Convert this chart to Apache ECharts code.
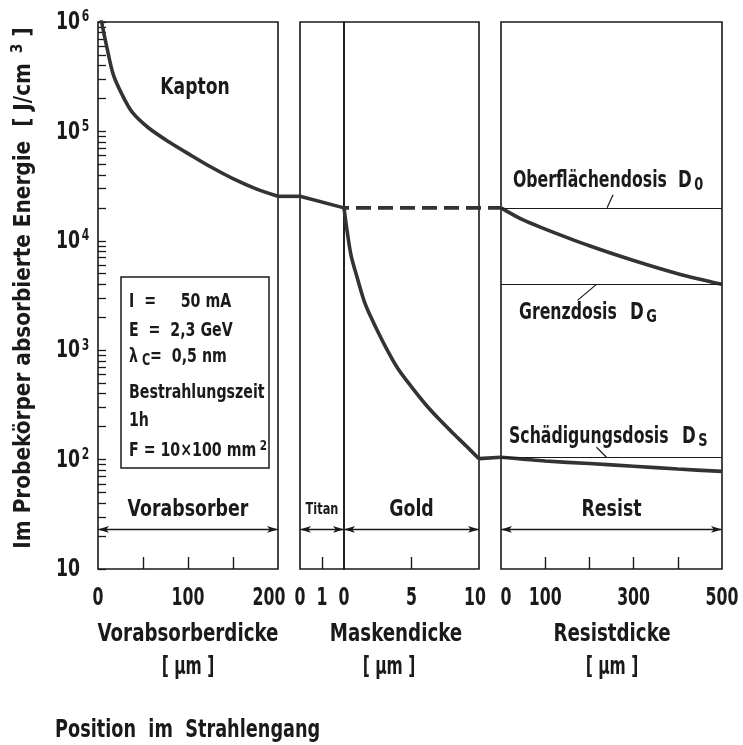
<!DOCTYPE html>
<html>
<head>
<meta charset="utf-8">
<script src="https://cdn.jsdelivr.net/npm/echarts@6/dist/echarts.min.js"></script>
<style>
  html, body { margin: 0; padding: 0; background: #fff; }
  #chart { width: 743px; height: 745px; }
</style>
</head>
<body>
<div id="chart"></div>
<script>
const FONT = '"DejaVu Sans Condensed", "DejaVu Sans", "Liberation Sans", sans-serif';
const INK = '#1a1a1a';
const CURVE = '#333333';

// Vorabsorber (Kapton): dose behind the pre-absorber
const kaptonThickness = [0, 4, 10, 17, 27, 38, 56, 79, 104, 125, 150, 175, 200];
const kaptonDose = [1.5e6, 1.0e6, 5.8e5, 3.3e5, 2.15e5, 1.5e5, 1.08e5, 8.0e4, 6.0e4, 4.75e4, 3.7e4, 3.0e4, 2.55e4];

// Titan membrane of the mask
const titanThickness = [0, 2];
const titanDose = [2.55e4, 2.0e4];

// Gold absorber of the mask
const goldThickness = [0, 0.5, 1, 1.5, 2, 3, 4, 5, 6, 7, 8, 9, 10];
const goldDose = [2.0e4, 7.6e3, 4.5e3, 2.8e3, 2.0e3, 1.12e3, 676, 462, 324, 237, 178, 135, 102];

// Resist: open areas (top curve) and areas under gold (bottom curve)
const resistDepth = [0, 50, 100, 200, 300, 400, 500];
const resistOpenDose = [2.0e4, 1.55e4, 1.28e4, 9.0e3, 6.6e3, 5.0e3, 4.0e3];
const resistMaskedDose = [105, 101, 97, 92, 87, 82, 78];

// Characteristic dose levels of the resist
const doseNames = ['Oberflächendosis', 'Grenzdosis', 'Schädigungsdosis'];
const doseSubscripts = ['0', 'G', 'S'];
const doseValues = [2.0e4, 4.0e3, 1.05e2];

// Layer names and the level of their extent arrows
const layerNames = ['Vorabsorber', 'Titan', 'Gold', 'Resist'];
const layerArrowLevel = 23;

// Axis ranges and tick labels
const yMin = 10, yMax = 1e6;
const yLabelValues = [10, 1e2, 1e3, 1e4, 1e5, 1e6];
const xRanges = [[0, 200], [0, 2], [0, 10], [0, 500]];
const xLabelValues = [[0, 100, 200], [0, 1], [0, 5, 10], [0, 100, 300, 500]];
const xTickValues = [[50, 100, 150], [1], [5], [100, 200, 300, 400]];

// log-decade positions of the minor ticks on the dose axis
const yMinorTicks = [];
for (let e = 1; e < 6; e++) for (let k = 1; k <= 9; k++) yMinorTicks.push(e + Math.log10(k));
yMinorTicks.push(6);

const zip = (xs, ys) => xs.map((x, i) => [x, ys[i]]);

const grids = [
  { left: 98, top: 22, width: 180, height: 547 },
  { left: 300, top: 22, width: 44, height: 547 },
  { left: 344, top: 22, width: 135, height: 547 },
  { left: 501, top: 22, width: 221, height: 547 }
].map(g => Object.assign(g, { show: true, borderColor: INK, borderWidth: 1.6, backgroundColor: 'transparent' }));

const xAxes = xRanges.map((r, i) => ({
  type: 'value', gridIndex: i, min: r[0], max: r[1],
  axisLine: { show: false },
  splitLine: { show: false },
  axisTick: { show: true, inside: true, length: 12, customValues: xTickValues[i], lineStyle: { color: INK, width: 1.4 } },
  axisLabel: { show: false }
}));

const yAxes = [0, 1, 2, 3].map(i => ({
  type: 'log', logBase: 10, gridIndex: i, min: yMin, max: yMax,
  axisLine: { show: false }, splitLine: { show: false },
  axisTick: { show: false }, axisLabel: { show: false }
}));
// linear decade scale on the first panel, carrying the minor ticks
yAxes.push({
  type: 'value', gridIndex: 0, min: 1, max: 6, position: 'left',
  axisLine: { show: false }, splitLine: { show: false }, axisLabel: { show: false },
  axisTick: { show: true, inside: true, length: 8, customValues: yMinorTicks, lineStyle: { color: INK, width: 1.3 } }
});

const curveStyle = { color: CURVE, width: 3.6 };
const arrowLine = i => ({
  silent: true, symbol: ['arrow', 'arrow'], symbolSize: [5, 11],
  lineStyle: { color: INK, width: 1.3, type: 'solid' },
  label: { show: false },
  data: [[{ coord: [xRanges[i][0], layerArrowLevel] }, { coord: [xRanges[i][1], layerArrowLevel] }]]
});

const series = [
  { type: 'line', name: 'Kapton', xAxisIndex: 0, yAxisIndex: 0, data: zip(kaptonThickness, kaptonDose),
    smooth: 0.3, symbol: 'none', lineStyle: curveStyle, markLine: arrowLine(0) },
  { type: 'line', name: 'Titan', xAxisIndex: 1, yAxisIndex: 1, data: zip(titanThickness, titanDose),
    symbol: 'none', lineStyle: curveStyle, markLine: arrowLine(1) },
  { type: 'line', name: 'Gold', xAxisIndex: 2, yAxisIndex: 2, data: zip(goldThickness, goldDose),
    smooth: 0.3, symbol: 'none', lineStyle: curveStyle, markLine: arrowLine(2) },
  { type: 'line', name: 'Resist offen', xAxisIndex: 3, yAxisIndex: 3, data: zip(resistDepth, resistOpenDose),
    smooth: 0.3, symbol: 'none', lineStyle: curveStyle, markLine: arrowLine(3) },
  { type: 'line', name: 'Resist unter Gold', xAxisIndex: 3, yAxisIndex: 3, data: zip(resistDepth, resistMaskedDose),
    smooth: 0.3, symbol: 'none', lineStyle: curveStyle,
    markLine: {
      silent: true, symbol: 'none', label: { show: false },
      lineStyle: { color: INK, width: 1.2, type: 'solid' },
      data: doseValues.map(v => ({ yAxis: v }))
    } }
];

const chart = echarts.init(document.getElementById('chart'), null, { renderer: 'canvas' });
chart.setOption({
  animation: false,
  backgroundColor: '#fff',
  grid: grids, xAxis: xAxes, yAxis: yAxes, series: series
});

// ---- labels and annotations, placed through the axes' own coordinate conversion ----
const px = (g, p) => chart.convertToPixel({ gridIndex: g }, p);
// bold condensed text; sx narrows the glyphs horizontally
const T = (x, y, text, size, sx, align, rich, extra) => Object.assign({
  type: 'text', x: x, y: y, scaleX: sx, silent: true,
  style: { text: text, fontFamily: FONT, fontSize: size, fontWeight: 'bold', fill: INK,
    align: align || 'center', verticalAlign: 'middle', rich: rich }
}, extra || {});
const seg = (a, b, style) => ({ type: 'polyline', silent: true, shape: { points: [a, b] },
  style: Object.assign({ stroke: INK, lineWidth: 1.2, fill: null }, style || {}) });

const graphics = [];
const curveStroke = { stroke: CURVE, lineWidth: 3.6, lineJoin: 'round' };

// curve continuing through the gaps between panels
graphics.push(seg(px(0, [200, kaptonDose[kaptonDose.length - 1]]), px(1, [0, titanDose[0]]), curveStroke));
graphics.push(seg(px(2, [10, goldDose[goldDose.length - 1]]), px(3, [0, resistMaskedDose[0]]), curveStroke));
// dose without gold absorber, carried across the mask to the resist surface
graphics.push(seg(px(2, [0, titanDose[1]]), px(3, [0, resistOpenDose[0]]),
  Object.assign({ lineDash: [15, 7], lineDashOffset: -12 }, curveStroke)));

// tick labels of the thickness axes
const xLabelNudge = { '0-200': -9, '2-10': -4, '3-0': 5 };
xLabelValues.forEach((vals, g) => vals.forEach(v => {
  const p = px(g, [v, yMin]);
  graphics.push(T(p[0] + (xLabelNudge[g + '-' + v] || 0), p[1] + 29, String(v), 25, 0.7));
}));

// tick labels of the dose axis (powers of ten)
const powRich = {
  b: { fontFamily: FONT, fontSize: 24, fontWeight: 'bold', fill: INK, lineHeight: 26 },
  s: { fontFamily: FONT, fontSize: 15, fontWeight: 'bold', fill: INK, lineHeight: 12, verticalAlign: 'top', padding: [0, 0, 0, 2] }
};
yLabelValues.forEach(v => {
  const p = px(0, [0, v]);
  const e = Math.round(Math.log10(v));
  graphics.push(T(56, p[1] + 1, e === 1 ? '{b|10}' : '{b|10}{s|' + e + '}', 24, 0.8, 'left', powRich));
});

// layer names above the extent arrows
layerNames.forEach((n, i) => {
  const a = px(i, [(xRanges[i][0] + xRanges[i][1]) / 2, layerArrowLevel]);
  graphics.push(T(a[0], a[1] - 19, n, i === 1 ? 15 : 23, 0.84));
});

// dose level labels with leader lines
const dRich = {
  d: { fontFamily: FONT, fontSize: 23, fontWeight: 'bold', fill: INK, lineHeight: 26 },
  u: { fontFamily: FONT, fontSize: 18, fontWeight: 'bold', fill: INK, lineHeight: 12, verticalAlign: 'bottom', padding: [0, 0, 0, 3] }
};
const doseLabelLayout = [
  { x: 513, dx: 678, dy: -27 },
  { x: 519, dx: 630, dy: 29 },
  { x: 509, dx: 682, dy: -20 }
];
doseValues.forEach((v, i) => {
  const lay = doseLabelLayout[i];
  graphics.push(T(lay.x, px(3, [0, v])[1] + lay.dy, doseNames[i], 23, 0.76, 'left'));
  graphics.push(T(lay.dx, px(3, [0, v])[1] + lay.dy, '{d|D}{u|' + doseSubscripts[i] + '}', 23, 0.8, 'left', dRich));
});
const lead0 = px(3, [240, doseValues[0]]);
graphics.push(seg(lead0, [lead0[0] + 6, lead0[1] - 13]));
const lead1 = px(3, [216, doseValues[1]]);
graphics.push(seg(lead1, [lead1[0] - 19, lead1[1] + 16]));
const lead2 = px(3, [216, doseValues[2]]);
graphics.push(seg([lead2[0], lead2[1] - 10], [lead2[0] + 10, lead2[1]]));

// material label
graphics.push(T(195, 88, 'Kapton', 23, 0.83));

// beam parameters
graphics.push({ type: 'rect', silent: true, shape: { x: 121, y: 277, width: 148, height: 191 },
  style: { stroke: INK, lineWidth: 1.5, fill: '#fff' } });
const boxRich = {
  m: { fontFamily: FONT, fontSize: 19, fontWeight: 'bold', fill: INK, lineHeight: 24 },
  u: { fontFamily: FONT, fontSize: 15, fontWeight: 'bold', fill: INK, lineHeight: 12, verticalAlign: 'bottom' },
  s: { fontFamily: FONT, fontSize: 14, fontWeight: 'bold', fill: INK, lineHeight: 12, verticalAlign: 'top' }
};
const boxLines = [
  ['{m|I  =     50 mA}', 302],
  ['{m|E  =  2,3 GeV}', 331],
  ['{m|λ}{u| C}{m|=  0,5 nm}', 357],
  ['{m|Bestrahlungszeit}', 393],
  ['{m|1h}', 421],
  ['{m|F = 10×100 mm}{s| 2}', 451]
];
boxLines.forEach(l => graphics.push(T(129, l[1], l[0], 19, 0.83, 'left', boxRich)));

// axis titles
graphics.push(T(188, 635, 'Vorabsorberdicke', 24, 0.845));
graphics.push(T(188, 668, '[ µm ]', 24, 0.72));
graphics.push(T(396, 635, 'Maskendicke', 24, 0.845));
graphics.push(T(389, 668, '[ µm ]', 24, 0.72));
graphics.push(T(612, 635, 'Resistdicke', 24, 0.845));
graphics.push(T(612, 668, '[ µm ]', 24, 0.72));
graphics.push(T(55, 731, 'Position  im  Strahlengang', 24, 0.82, 'left'));

// dose axis title
graphics.push(T(24, 288, '{m|Im Probekörper absorbierte Energie  [ J/cm }{s|3}{m| ]}', 23, 0.97, 'center', {
  m: { fontFamily: FONT, fontSize: 23, fontWeight: 'bold', fill: INK, lineHeight: 28 },
  s: { fontFamily: FONT, fontSize: 16, fontWeight: 'bold', fill: INK, lineHeight: 14, verticalAlign: 'top', padding: [0, 0, 0, 3] }
}, { rotation: Math.PI / 2 }));

chart.setOption({ graphic: graphics });
</script>
</body>
</html>
